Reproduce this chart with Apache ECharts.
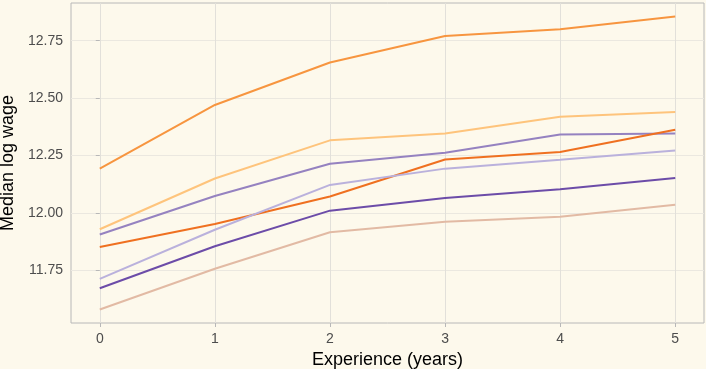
<!DOCTYPE html>
<html>
<head>
<meta charset="utf-8">
<script src="https://cdn.jsdelivr.net/npm/echarts@6/dist/echarts.min.js"></script>
<style>
html,body{margin:0;padding:0;background:#fdf9ec;}
#chart{width:706px;height:369px;}
</style>
</head>
<body>
<div id="chart"></div>
<script>
const experience = [0, 1, 2, 3, 4, 5];
const xTicks = [0, 1, 2, 3, 4, 5];
const yTicks = [11.75, 12.00, 12.25, 12.50, 12.75];

const seriesA = [12.193, 12.470, 12.655, 12.770, 12.800, 12.855]; // orange (top)
const seriesB = [11.929, 12.150, 12.316, 12.346, 12.419, 12.440]; // light orange
const seriesC = [11.906, 12.074, 12.214, 12.262, 12.342, 12.346]; // medium purple
const seriesD = [11.852, 11.952, 12.072, 12.233, 12.265, 12.362]; // dark orange
const seriesE = [11.713, 11.927, 12.122, 12.193, 12.232, 12.272]; // light purple
const seriesF = [11.672, 11.855, 12.010, 12.065, 12.103, 12.152]; // dark purple
const seriesG = [11.580, 11.757, 11.916, 11.962, 11.984, 12.036]; // pale brown

const lines = [
  {data: seriesA, color: '#f7953f'},
  {data: seriesB, color: '#fec47c'},
  {data: seriesC, color: '#9582c0'},
  {data: seriesD, color: '#ef7020'},
  {data: seriesE, color: '#bab1dc'},
  {data: seriesF, color: '#6c4ca8'},
  {data: seriesG, color: '#e2baa4'}
];

const chart = echarts.init(document.getElementById('chart'), null, {renderer: 'canvas'});
chart.setOption({
  backgroundColor: '#fdf9ec',
  animation: false,
  grid: {left: 71, right: 2, top: 3, bottom: 46, show: true, borderColor: '#b8b8b8', borderWidth: 1,
         backgroundColor: 'transparent', containLabel: false, outerBoundsMode: 'none'},
  xAxis: {
    type: 'value', min: -0.25, max: 5.25,
    name: 'Experience (years)', nameLocation: 'middle', nameGap: 28,
    nameTextStyle: {color: '#000', fontSize: 18, fontFamily: 'Liberation Sans'},
    axisLine: {show: false},
    axisTick: {show: true, length: 4, lineStyle: {color: '#b8b8b8'}, customValues: xTicks},
    axisLabel: {color: '#4d4d4d', fontSize: 14, fontFamily: 'Liberation Sans', margin: 9, customValues: xTicks, formatter: v => String(v)},
    splitLine: {show: true, lineStyle: {color: '#e2e0da', width: 1}}
  },
  yAxis: {
    type: 'value', min: 11.521, max: 12.914,
    name: 'Median log wage', nameLocation: 'middle', nameGap: 48, nameRotate: 90,
    nameTextStyle: {color: '#000', fontSize: 18, fontFamily: 'Liberation Sans'},
    axisLine: {show: false},
    axisTick: {show: true, length: 4, lineStyle: {color: '#b8b8b8'}, customValues: yTicks},
    axisLabel: {color: '#4d4d4d', fontSize: 14, fontFamily: 'Liberation Sans', margin: 8, customValues: yTicks, formatter: v => v.toFixed(2)},
    splitLine: {show: true, lineStyle: {color: '#ebe8e0', width: 1.2}}
  },
  series: lines.map(l => ({
    type: 'line',
    data: experience.map((x, i) => [x, l.data[i]]),
    showSymbol: false,
    lineStyle: {color: l.color, width: 2},
    itemStyle: {color: l.color}
  }))
});
</script>
</body>
</html>
